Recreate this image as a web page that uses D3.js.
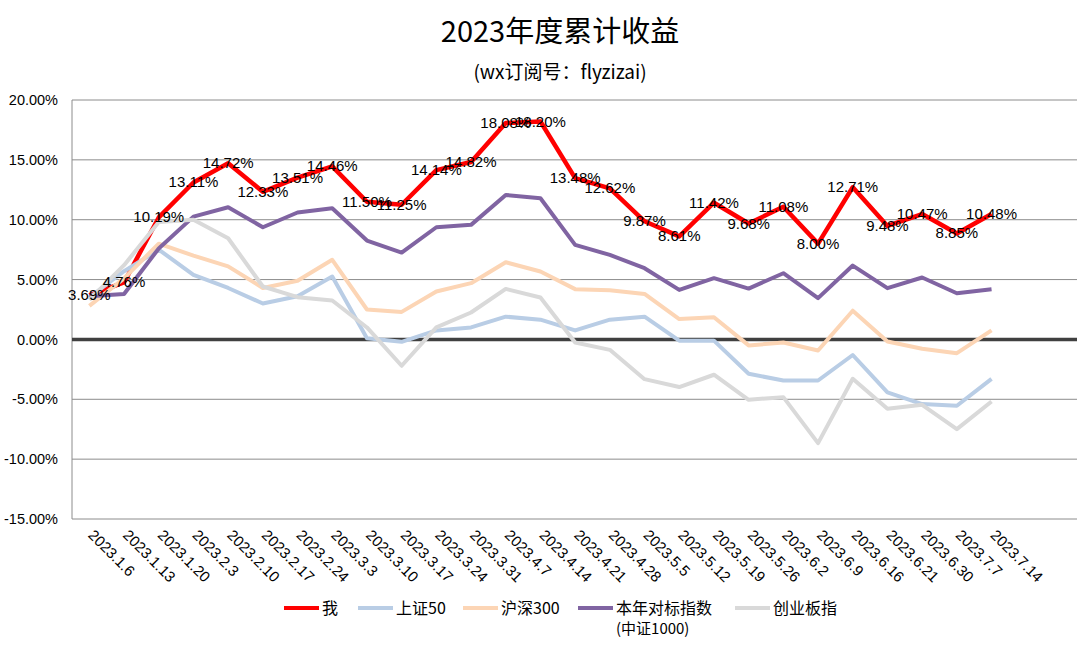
<!DOCTYPE html>
<html>
<head>
<meta charset="utf-8">
<script src="https://cdn.jsdelivr.net/npm/d3@7"></script>
<style>
  body { margin: 0; background: #fff; }
  svg { display: block; font-family: "Liberation Sans", "Noto Sans CJK SC", sans-serif; }
</style>
</head>
<body>
<svg id="chart" width="1086" height="645"></svg>
<script>
// weekly dates
const categories = ["2023.1.6","2023.1.13","2023.1.20","2023.2.3","2023.2.10","2023.2.17","2023.2.24",
  "2023.3.3","2023.3.10","2023.3.17","2023.3.24","2023.3.31","2023.4.7","2023.4.14","2023.4.21",
  "2023.4.28","2023.5.5","2023.5.12","2023.5.19","2023.5.26","2023.6.2","2023.6.9","2023.6.16",
  "2023.6.21","2023.6.30","2023.7.7","2023.7.14"];

// cumulative return, %
const me = [3.69,4.76,10.19,13.11,14.72,12.33,13.51,14.46,11.50,11.25,14.14,14.82,18.08,18.20,
  13.48,12.62,9.87,8.61,11.42,9.68,11.08,8.00,12.71,9.48,10.47,8.85,10.48];
const sz50 = [3.5,5.7,7.5,5.4,4.3,3.0,3.6,5.25,0.1,-0.2,0.75,1.0,1.9,1.65,0.75,1.65,1.9,-0.1,
  -0.1,-2.87,-3.43,-3.43,-1.3,-4.43,-5.4,-5.54,-3.3];
const hs300 = [2.8,5.1,8.0,7.0,6.1,4.3,4.9,6.65,2.5,2.3,4.0,4.7,6.45,5.67,4.2,4.1,3.8,1.7,1.85,
  -0.5,-0.26,-0.92,2.4,-0.17,-0.78,-1.15,0.75];
const zz1000 = [3.6,3.8,7.6,10.26,11.04,9.37,10.6,10.96,8.26,7.26,9.37,9.57,12.07,11.79,7.9,
  7.06,5.95,4.14,5.12,4.25,5.53,3.45,6.17,4.28,5.17,3.86,4.2];
const cyb = [3.3,6.2,9.8,10.0,8.45,4.42,3.53,3.25,1.0,-2.2,1.0,2.25,4.22,3.5,-0.26,-0.87,-3.32,
  -3.98,-2.95,-5.04,-4.82,-8.66,-3.29,-5.79,-5.46,-7.49,-5.18];

const yTicks = [20,15,10,5,0,-5,-10,-15];

const series = [
  { name: "我", values: me, color: "#ff0000", width: 4.5 },
  { name: "上证50", values: sz50, color: "#b9cde5", width: 4 },
  { name: "沪深300", values: hs300, color: "#fcd5b5", width: 4 },
  { name: "本年对标指数", sub: "(中证1000)", values: zz1000, color: "#8064a2", width: 4 },
  { name: "创业板指", values: cyb, color: "#d9d9d9", width: 4 }
];

const svg = d3.select("#chart");
const plot = { left: 72, right: 1077, top: 100, bottom: 519 };
const step = 34.7;

const x = d3.scaleBand()
  .domain(categories)
  .range([plot.left, plot.left + step * categories.length]);
const y = d3.scaleLinear().domain([-15, 20]).range([plot.bottom, plot.top]);
const cx = d => x(d) + x.bandwidth() / 2;

// title
svg.append("text")
  .attr("x", 560).attr("y", 42)
  .attr("text-anchor", "middle")
  .style("font-family", "'Noto Sans CJK SC', sans-serif")
  .style("font-size", "29px")
  .text("2023年度累计收益");
svg.append("text")
  .attr("x", 560).attr("y", 79)
  .attr("text-anchor", "middle")
  .style("font-family", "'Noto Sans CJK SC', sans-serif")
  .style("font-size", "19px")
  .text("(wx订阅号：flyzizai)");

// grid
svg.append("g")
  .selectAll("line")
  .data(yTicks.filter(t => t !== 0))
  .enter().append("line")
  .attr("x1", plot.left).attr("x2", plot.right)
  .attr("y1", d => y(d)).attr("y2", d => y(d))
  .attr("stroke", "#8c8c8c").attr("stroke-width", 1);

svg.append("line")
  .attr("x1", plot.left).attr("x2", plot.left)
  .attr("y1", plot.top).attr("y2", plot.bottom)
  .attr("stroke", "#8c8c8c");

// y axis labels
const yAxis = svg.append("g")
  .attr("transform", `translate(${plot.left},0)`)
  .call(d3.axisLeft(y).tickValues(yTicks).tickSize(0).tickPadding(14)
    .tickFormat(d => d.toFixed(2) + "%"));
yAxis.select(".domain").remove();
yAxis.selectAll("text").style("font-size", "14.5px").style("fill", "#000")
  .style("font-family", "'Liberation Sans', sans-serif");

// zero line
svg.append("line")
  .attr("x1", plot.left).attr("x2", plot.right)
  .attr("y1", y(0)).attr("y2", y(0))
  .attr("stroke", "#404040").attr("stroke-width", 3.5);

// x labels
svg.append("g")
  .selectAll("text")
  .data(categories)
  .enter().append("text")
  .attr("transform", d => `translate(${cx(d) - 2},${plot.bottom + 17}) rotate(45)`)
  .style("font-size", "15px")
  .text(d => d);

// lines
const line = d3.line()
  .x((d, i) => cx(categories[i]))
  .y(d => y(d));

svg.append("g")
  .selectAll("path")
  .data(series)
  .enter().append("path")
  .attr("d", d => line(d.values))
  .attr("fill", "none")
  .attr("stroke", d => d.color)
  .attr("stroke-width", d => d.width)
  .attr("stroke-linejoin", "round");

// labels for my returns
svg.append("g")
  .selectAll("text")
  .data(me)
  .enter().append("text")
  .attr("x", (d, i) => cx(categories[i]))
  .attr("y", d => y(d) + 5)
  .attr("text-anchor", "middle")
  .style("font-size", "15px")
  .text(d => d.toFixed(2) + "%");

// legend
const legendX = [284, 358, 463, 578, 735];
const legend = svg.append("g")
  .selectAll("g")
  .data(series)
  .enter().append("g")
  .attr("transform", (d, i) => `translate(${legendX[i]},608)`);
legend.append("line")
  .attr("x1", 0).attr("x2", 35)
  .attr("stroke", d => d.color).attr("stroke-width", 4);
legend.append("text")
  .attr("x", 38).attr("y", 6)
  .style("font-family", "'Noto Sans CJK SC', sans-serif")
  .style("font-size", "16px")
  .text(d => d.name);
legend.filter(d => d.sub).append("text")
  .attr("x", 38).attr("y", 26)
  .style("font-family", "'Noto Sans CJK SC', sans-serif")
  .style("font-size", "15px")
  .text(d => d.sub);
</script>
</body>
</html>
